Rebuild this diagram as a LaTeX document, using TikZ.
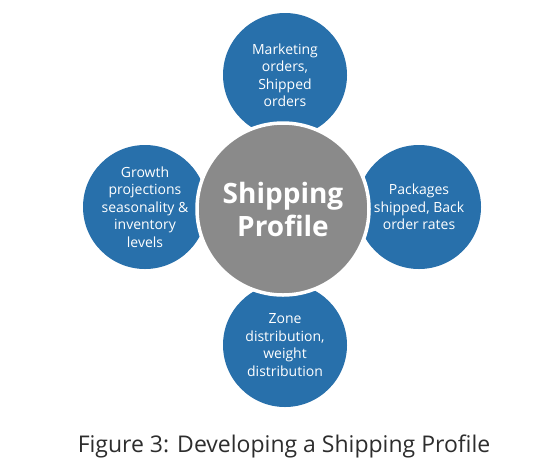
\documentclass[tikz,border=0pt]{standalone}
\usepackage{fontspec}
\setmainfont{Open Sans}
\definecolor{blueC}{RGB}{40,112,171}
\definecolor{grayC}{RGB}{138,138,138}
\definecolor{capC}{RGB}{45,45,45}
\begin{document}
\begin{tikzpicture}[x=1pt,y=-1pt,
  outer/.style={circle,fill=blueC,minimum size=124pt,inner sep=0pt,text=white,align=center,font=\fontsize{14}{17.5}\selectfont},
  hub/.style={circle,fill=grayC,draw=white,line width=3.5pt,minimum size=172pt,inner sep=0pt,text=white,align=center,font=\fontsize{28}{33}\selectfont\bfseries}]
\useasboundingbox (0,0) rectangle (548,475);
\fill[white] (0,0) rectangle (548,475);
\node[outer] (top) at (285,75) {Marketing\\orders,\\Shipped\\orders};
\node[outer] (left) at (145,207) {Growth\\projections\\seasonality \&\\inventory\\levels};
\node[outer] (right) at (419,207) {Packages\\shipped, Back\\order rates};
\node[outer] (bottom) at (285,345) {Zone\\distribution,\\weight\\distribution};
\node[hub] (hub) at (283,209) {Shipping\\Profile};
\node[text=capC,font=\fontsize{23}{26}\selectfont,anchor=base] (cap) at (284,452) {Figure 3: Developing a Shipping Profile};
\end{tikzpicture}
\end{document}
